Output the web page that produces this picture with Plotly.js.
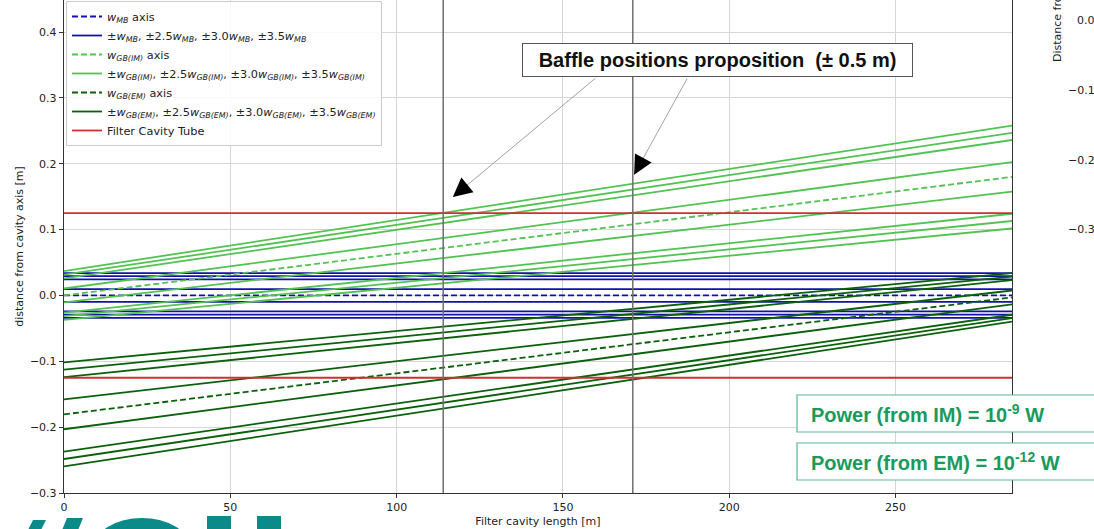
<!DOCTYPE html>
<html>
<head>
<meta charset="utf-8">
<script src="https://cdn.plot.ly/plotly-3.0.1.min.js"></script>
<style>html,body{margin:0;padding:0;background:#fff;}#chart{width:1094px;height:529px;}</style>
</head>
<body>
<div id="chart"></div>
<script>
// ---------------- data ----------------
const lengthEnds = [0, 285];                 // filter cavity length [m], start / end of each line
const mbAxis = [0.0, 0.0];
const mbLinesStart = [0.034, 0.0292, 0.0243, 0.0097, -0.0097, -0.0243, -0.0292, -0.034];
const mbLinesEnd   = [0.034, 0.0292, 0.0243, 0.0097, -0.0097, -0.0243, -0.0292, -0.034];
const imAxis = [0.0, 0.180];
const imLinesStart = [0.037, 0.0315, 0.026, 0.0105, -0.0105, -0.026, -0.0315, -0.037];
const imLinesEnd   = [0.258, 0.247, 0.236, 0.2024, 0.1576, 0.124, 0.113, 0.1016];
const emAxis = [-0.1806, -0.003];
const emLinesStart = [-0.1015, -0.1128, -0.1241, -0.158, -0.2032, -0.2371, -0.2484, -0.2597];
const emLinesEnd   = [0.0338, 0.0285, 0.0233, 0.0075, -0.0135, -0.0293, -0.0345, -0.0398];
const tubeRadius = [0.125, -0.125];
const bafflePositions = [114, 171];
const xTicks = [0, 50, 100, 150, 200, 250];
const yTicks = [-0.3, -0.2, -0.1, 0.0, 0.1, 0.2, 0.3, 0.4];
const xRange = [0, 285];
const yRange = [-0.3, 0.4486];
// arrow annotation ends (data coords): tail near label box, tip near baffle
const arrowTails = [[160.2, 0.3317], [187.6, 0.3317]];
const arrowTips  = [[116.9, 0.1494], [171.4, 0.1834]];
const sideTickLabels = ['0.0', '\u22120.1', '\u22120.2', '\u22120.3'];

// ---------------- styling ----------------
const C_MB = '#1212a8', C_IM = '#52c352', C_EM = '#0b610b', C_TUBE = '#cc3030';
const LW = 1.8, DASH = '6px,3px';
const FONT = 'DejaVu Sans, Verdana, sans-serif';
const BOLD = 'Liberation Sans, Arial, sans-serif';

const mb = t => '<i>w</i><sub><i>' + t + '</i></sub>';
const traces = [];
function line(ys, color, dash, name, showlegend) {
  traces.push({
    x: lengthEnds, y: ys, type: 'scatter', mode: 'lines',
    line: {color: color, width: LW, dash: dash},
    name: name || '', showlegend: !!showlegend, hoverinfo: 'skip'
  });
}
function family(axis, starts, ends, color, sub) {
  line(axis, color, DASH, mb(sub) + ' axis', true);
  for (let i = 0; i < starts.length; i++) {
    line([starts[i], ends[i]], color, 'solid',
      '\u00b1' + mb(sub) + ', \u00b12.5' + mb(sub) + ', \u00b13.0' + mb(sub) + ', \u00b13.5' + mb(sub), i === 0);
  }
}
family(mbAxis, mbLinesStart, mbLinesEnd, C_MB, 'MB');
family(imAxis, imLinesStart, imLinesEnd, C_IM, 'GB(IM)');
family(emAxis, emLinesStart, emLinesEnd, C_EM, 'GB(EM)');
tubeRadius.forEach((r, i) => line([r, r], C_TUBE, 'solid', 'Filter Cavity Tube', i === 0));

// pixel -> paper helpers for decorative elements (plot area 64..1012 x 0..493)
const L = 64, R = 1012, T = 0, B = 493;
const px = X => (X - L) / (R - L);
const py = Y => (B - Y) / (B - T);

const shapes = [];
bafflePositions.forEach(b => shapes.push({
  type: 'line', xref: 'x', yref: 'paper', x0: b, x1: b, y0: 0, y1: 1,
  line: {color: '#6e6e6e', width: 1.5}, layer: 'above'
}));
// power boxes
[[395, 432], [443, 480]].forEach(([y1, y2]) => shapes.push({
  type: 'rect', xref: 'paper', yref: 'paper', x0: px(797), x1: px(1110), y0: py(y2), y1: py(y1),
  fillcolor: '#ffffff', line: {color: '#5db596', width: 1.2}, layer: 'above'
}));
// partial logo (bottom left)
const TEAL = '#0b8a8a';
function poly(pts) {
  return {type: 'path', xref: 'paper', yref: 'paper', layer: 'above',
    path: 'M' + pts.map(p => px(p[0]).toFixed(5) + ',' + py(p[1]).toFixed(5)).join('L') + 'Z',
    fillcolor: TEAL, line: {width: 0}};
}
shapes.push(poly([[33, 520], [46, 520], [36, 540], [23, 540]]));
shapes.push(poly([[67, 518], [83, 518], [74, 540], [58, 540]]));
shapes.push({type: 'circle', xref: 'paper', yref: 'paper', x0: px(94), x1: px(190), y0: py(578), y1: py(518),
  fillcolor: TEAL, line: {width: 0}, layer: 'above'});
shapes.push(poly([[207, 516], [231, 516], [231, 540], [207, 540]]));
shapes.push(poly([[257, 516], [281, 516], [281, 540], [257, 540]]));

const annotations = [];
// label box
annotations.push({
  xref: 'paper', yref: 'paper', x: px(717.5), y: py(60), xanchor: 'center', yanchor: 'middle',
  text: '<b>Baffle positions proposition \u00a0(\u00b1 0.5 m)</b>', showarrow: false,
  font: {family: BOLD, size: 20, color: '#111'}, width: 381, height: 24, align: 'center',
  bgcolor: '#ffffff', bordercolor: '#555555', borderwidth: 1, borderpad: 4
});
// arrows: thin gray shaft + black head
for (let i = 0; i < arrowTails.length; i++) {
  const [tx, ty] = arrowTails[i], [hx, hy] = arrowTips[i];
  annotations.push({xref: 'x', yref: 'y', axref: 'x', ayref: 'y', x: hx, y: hy, ax: tx, ay: ty,
    text: '', showarrow: true, arrowhead: 0, arrowwidth: 0.8, arrowcolor: '#8a8a8a', standoff: 0, startstandoff: 0});
  const f = [0.1, 0.16][i];
  annotations.push({xref: 'x', yref: 'y', axref: 'x', ayref: 'y', x: hx, y: hy,
    ax: hx + (tx - hx) * f, ay: hy + (ty - hy) * f,
    text: '', showarrow: true, arrowhead: 2, arrowsize: 3.8, arrowwidth: 1, arrowcolor: '#000', standoff: 0});
}
// power labels
const GREEN_TXT = '#1a9a5c';
annotations.push({xref: 'paper', yref: 'paper', x: px(809), y: py(413.5), xanchor: 'left', yanchor: 'middle',
  text: '<b>Power (from IM) = 10<sup>-9</sup> W</b>', showarrow: false, font: {family: BOLD, size: 20, color: GREEN_TXT}});
annotations.push({xref: 'paper', yref: 'paper', x: px(809), y: py(461.5), xanchor: 'left', yanchor: 'middle',
  text: '<b>Power (from EM) = 10<sup>-12</sup> W</b>', showarrow: false, font: {family: BOLD, size: 20, color: GREEN_TXT}});
// fragment of a neighbouring figure (right edge)
annotations.push({xref: 'paper', yref: 'paper', x: px(1057), y: py(64), xanchor: 'center', yanchor: 'bottom',
  text: 'Distance from cavity axis [m]', textangle: -90, showarrow: false, font: {family: FONT, size: 11, color: '#222'}});
sideTickLabels.forEach((t, i) => annotations.push({xref: 'paper', yref: 'paper', x: px(1097), y: py(20 + 70 * i),
  xanchor: 'right', yanchor: 'middle', text: t, showarrow: false, font: {family: FONT, size: 11, color: '#222'}}));

const layout = {
  width: 1094, height: 529,
  margin: {l: L, r: 1094 - R, t: T, b: 529 - B, pad: 0},
  paper_bgcolor: '#ffffff', plot_bgcolor: '#ffffff',
  font: {family: FONT, size: 11, color: '#222'},
  showlegend: true,
  legend: {
    x: px(66), y: py(1), xanchor: 'left', yanchor: 'top',
    bgcolor: 'rgba(255,255,255,0.85)', bordercolor: '#cccccc', borderwidth: 1,
    font: {family: FONT, size: 11.3, color: '#222'}, tracegroupgap: 0, itemwidth: 30
  },
  xaxis: {
    range: xRange, tickvals: xTicks, ticktext: xTicks.map(String),
    showgrid: true, gridcolor: '#d6d6d6', gridwidth: 1, zeroline: false,
    showline: true, linecolor: '#333', linewidth: 1.2, mirror: false,
    ticks: 'outside', ticklen: 4, tickcolor: '#333', tickwidth: 1,
    tickfont: {family: FONT, size: 11, color: '#222'},
    title: {text: 'Filter cavity length [m]', font: {family: FONT, size: 11, color: '#222'}, standoff: 3}
  },
  yaxis: {
    range: yRange, tickvals: yTicks, ticktext: yTicks.map(v => (v < 0 ? '\u2212' : '') + Math.abs(v).toFixed(1)),
    showgrid: true, gridcolor: '#d6d6d6', gridwidth: 1, zeroline: false,
    showline: true, linecolor: '#333', linewidth: 1.2, mirror: true,
    ticks: 'outside', ticklen: 4, tickcolor: '#333', tickwidth: 1,
    tickfont: {family: FONT, size: 11, color: '#222'},
    title: {text: 'distance from cavity axis [m]', font: {family: FONT, size: 11, color: '#222'}, standoff: 4}
  },
  shapes: shapes,
  annotations: annotations
};

Plotly.newPlot('chart', traces, layout, {displayModeBar: false, staticPlot: true});
</script>
</body>
</html>
